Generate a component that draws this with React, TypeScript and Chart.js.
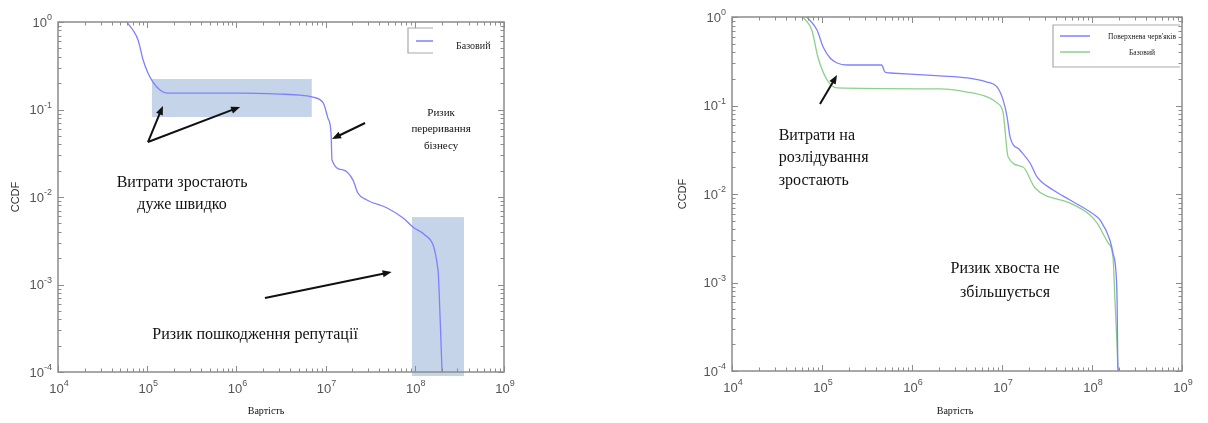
import { useEffect, useRef } from "react";
import { Chart, registerables } from "chart.js";
import type { Plugin } from "chart.js";

Chart.register(...registerables);

// Axis ranges (log10 decades)
const COST_DECADES = [4, 5, 6, 7, 8, 9];
const CCDF_DECADES = [-4, -3, -2, -1, 0];

// Left panel: baseline loss CCDF
const baseLeftCost = [
  5.9e4, 6.9e4, 7.9e4, 9.0e4, 1.02e5, 1.16e5, 1.39e5, 1.67e5, 1.1e6, 3.1e6, 5.2e6, 7.0e6,
  9.4e6, 1.06e7, 1.15e7, 1.18e7, 1.57e7, 2.03e7, 2.3e7, 2.9e7, 4.9e7, 7.4e7, 9.5e7, 1.3e8,
  1.82e8, 1.92e8, 2.02e8,
];
const baseLeftCcdf = [
  1, 0.81, 0.623, 0.368, 0.261, 0.206, 0.167, 0.154, 0.154, 0.15, 0.146, 0.139,
  0.119, 0.08, 0.054, 0.0265, 0.0204, 0.0156, 0.0111, 0.00925, 0.00749, 0.00575, 0.00454, 0.00368,
  0.00147, 0.000425, 0.0001,
];

// Right panel: worm propagation scenario
const wormCost = [
  6.8e4, 8.8e4, 1.03e5, 1.23e5, 1.47e5, 1.9e5, 4.6e5, 5.0e5, 5.7e5, 2.05e6, 4.1e6, 6.8e6,
  8.8e6, 1.03e7, 1.14e7, 1.23e7, 1.58e7, 2.05e7, 2.45e7, 3.7e7, 5.7e7, 1.14e8, 1.23e8, 1.58e8,
  1.71e8, 1.85e8, 1.9e8, 1.94e8, 2.0e8,
];
const wormCcdf = [
  1, 0.713, 0.458, 0.344, 0.302, 0.287, 0.287, 0.239, 0.233, 0.216, 0.205, 0.184,
  0.162, 0.115, 0.074, 0.044, 0.0314, 0.0224, 0.0156, 0.0111, 0.00855, 0.0055, 0.00508, 0.00302,
  0.00215, 0.00128, 0.000634, 0.000111, 0.0001,
];

// Right panel: baseline
const baseRightCost = [
  6.1e4, 7.7e4, 9.0e4, 1.14e5, 1.47e5, 2.05e6, 4.1e6, 6.8e6, 8.8e6, 1.03e7, 1.17e7, 1.71e7,
  2.33e7, 5.7e7, 9.5e7, 1.14e8, 1.51e8, 1.71e8, 1.8e8, 1.9e8, 1.94e8,
];
const baseRightCcdf = [
  1, 0.713, 0.353, 0.194, 0.158, 0.154, 0.142, 0.125, 0.107, 0.082, 0.0262, 0.0202,
  0.0117, 0.0079, 0.0058, 0.0047, 0.0028, 0.00194, 0.00063, 0.000187, 0.0001,
];

const BLUE = "rgb(128,128,255)";
const GREEN = "rgb(140,208,140)";
const SHADE = "rgb(198,212,233)";
const FRAME = "rgb(140,140,140)";
const SERIF = '"Liberation Serif", "Times New Roman", serif';
const SANS = '"Liberation Sans", Arial, sans-serif';

type XY = [number, number];
interface Region { from: XY; to: XY }
interface Note { text: string; at: XY; size: number; align: CanvasTextAlign }
interface LegendItem { label: string; color: string }
interface PanelSpec {
  id: string;
  regions: Region[];
  arrows: Region[];
  notes: Note[];
  legend: { box: [number, number, number, number]; full: boolean; items: LegendItem[]; lineX: [number, number]; rowY: number[]; textX: number; textAlign: CanvasTextAlign; size: number };
  yTitleX: number;
  xTitleX: number;
}

// Annotation placement, in (cost, ccdf) coordinates
const leftRegions: Region[] = [
  { from: [1.13e5, 0.082], to: [7.0e6, 0.223] },
  { from: [9.3e7, 9e-5], to: [3.56e8, 0.0059] },
];
const leftArrows: Region[] = [
  { from: [1.02e5, 0.0425], to: [1.5e5, 0.11] },
  { from: [1.02e5, 0.0425], to: [1.1e6, 0.107] },
  { from: [2.77e7, 0.0701], to: [1.18e7, 0.046] },
  { from: [2.09e6, 0.0007], to: [5.5e7, 0.00139] },
];
const leftNotes: Note[] = [
  { text: "Витрати зростають", at: [2.46e5, 0.0145], size: 16, align: "center" },
  { text: "дуже швидко", at: [2.46e5, 0.0081], size: 16, align: "center" },
  { text: "Ризик", at: [1.97e8, 0.0912], size: 11, align: "center" },
  { text: "переривання", at: [1.97e8, 0.0599], size: 11, align: "center" },
  { text: "бізнесу", at: [1.97e8, 0.0383], size: 11, align: "center" },
  { text: "Ризик пошкодження репутації", at: [1.62e6, 0.000265], size: 16, align: "center" },
];
const rightArrows: Region[] = [{ from: [9.5e4, 0.104], to: [1.47e5, 0.221] }];
const rightNotes: Note[] = [
  { text: "Витрати на", at: [3.3e4, 0.0452], size: 16, align: "left" },
  { text: "розлідування", at: [3.3e4, 0.0255], size: 16, align: "left" },
  { text: "зростають", at: [3.3e4, 0.014], size: 16, align: "left" },
  { text: "Ризик хвоста не", at: [1.08e7, 0.00142], size: 16, align: "center" },
  { text: "збільшується", at: [1.08e7, 0.00076], size: 16, align: "center" },
];

function drawArrow(ctx: CanvasRenderingContext2D, x0: number, y0: number, x1: number, y1: number) {
  const a = Math.atan2(y1 - y0, x1 - x0);
  const c = Math.cos(a), s = Math.sin(a);
  const head = 9, hw = 3.6;
  ctx.beginPath();
  ctx.moveTo(x0, y0);
  ctx.lineTo(x1 - head * 0.7 * c, y1 - head * 0.7 * s);
  ctx.stroke();
  ctx.beginPath();
  ctx.moveTo(x1, y1);
  ctx.lineTo(x1 - head * c + hw * s, y1 - head * s - hw * c);
  ctx.lineTo(x1 - head * c - hw * s, y1 - head * s + hw * c);
  ctx.closePath();
  ctx.fill();
}

function makeDecor(spec: PanelSpec): Plugin<"line"> {
  return {
    id: spec.id,
    beforeDatasetsDraw(chart) {
      const { ctx } = chart;
      const xs = chart.scales.x, ys = chart.scales.y;
      ctx.save();
      ctx.fillStyle = SHADE;
      for (const r of spec.regions) {
        const x0 = xs.getPixelForValue(r.from[0]);
        const x1 = xs.getPixelForValue(r.to[0]);
        const y0 = ys.getPixelForValue(r.from[1]);
        const y1 = ys.getPixelForValue(r.to[1]);
        ctx.fillRect(Math.min(x0, x1), Math.min(y0, y1), Math.abs(x1 - x0), Math.abs(y1 - y0));
      }
      ctx.restore();
    },
    afterDraw(chart) {
      const { ctx, chartArea: ca } = chart;
      const xs = chart.scales.x, ys = chart.scales.y;
      ctx.save();

      // frame with inward ticks on all four sides
      ctx.strokeStyle = FRAME;
      ctx.lineWidth = 1.5;
      ctx.strokeRect(ca.left, ca.top, ca.right - ca.left, ca.bottom - ca.top);
      ctx.lineWidth = 1;
      ctx.beginPath();
      for (let d = COST_DECADES[0]; d <= COST_DECADES[COST_DECADES.length - 1]; d++) {
        for (let m = 1; m <= 9; m++) {
          const v = m * Math.pow(10, d);
          if (v > Math.pow(10, COST_DECADES[COST_DECADES.length - 1])) break;
          const px = Math.round(xs.getPixelForValue(v)) + 0.5;
          const len = m === 1 ? 6 : 3.5;
          ctx.moveTo(px, ca.bottom); ctx.lineTo(px, ca.bottom - len);
          ctx.moveTo(px, ca.top); ctx.lineTo(px, ca.top + len);
        }
      }
      for (let d = CCDF_DECADES[0]; d <= CCDF_DECADES[CCDF_DECADES.length - 1]; d++) {
        for (let m = 1; m <= 9; m++) {
          const v = m * Math.pow(10, d);
          if (v > 1) break;
          const py = Math.round(ys.getPixelForValue(v)) + 0.5;
          const len = m === 1 ? 6 : 3.5;
          ctx.moveTo(ca.left, py); ctx.lineTo(ca.left + len, py);
          ctx.moveTo(ca.right, py); ctx.lineTo(ca.right - len, py);
        }
      }
      ctx.stroke();

      // power-of-ten tick labels
      ctx.fillStyle = "#555";
      ctx.textBaseline = "middle";
      const baseFont = `13px ${SANS}`;
      const expFont = `9px ${SANS}`;
      for (const d of CCDF_DECADES) {
        const py = ys.getPixelForValue(Math.pow(10, d));
        ctx.font = expFont;
        const e = String(d);
        const we = ctx.measureText(e).width;
        ctx.font = baseFont;
        const wb = ctx.measureText("10").width;
        const right = ca.left - 6;
        ctx.textAlign = "left";
        ctx.fillText("10", right - we - wb, py + 1);
        ctx.font = expFont;
        ctx.fillText(e, right - we, py - 4);
      }
      for (const d of COST_DECADES) {
        const px = xs.getPixelForValue(Math.pow(10, d));
        ctx.font = expFont;
        const e = String(d);
        const we = ctx.measureText(e).width;
        ctx.font = baseFont;
        const wb = ctx.measureText("10").width;
        const start = px + 1 - (wb + we) / 2;
        ctx.textAlign = "left";
        ctx.fillText("10", start, ca.bottom + 17);
        ctx.font = expFont;
        ctx.fillText(e, start + wb, ca.bottom + 12);
      }

      // axis titles
      ctx.fillStyle = "#333";
      ctx.font = `11px ${SANS}`;
      ctx.textAlign = "center";
      ctx.save();
      ctx.translate(spec.yTitleX, (ca.top + ca.bottom) / 2);
      ctx.rotate(-Math.PI / 2);
      ctx.fillText("CCDF", 0, 0);
      ctx.restore();
      ctx.fillStyle = "#111";
      ctx.font = `10px ${SERIF}`;
      ctx.fillText("Вартість", spec.xTitleX, 411);

      // arrows
      ctx.strokeStyle = "#111";
      ctx.fillStyle = "#111";
      ctx.lineWidth = 2;
      for (const a of spec.arrows) {
        drawArrow(
          ctx,
          xs.getPixelForValue(a.from[0]), ys.getPixelForValue(a.from[1]),
          xs.getPixelForValue(a.to[0]), ys.getPixelForValue(a.to[1]),
        );
      }

      // callout text
      ctx.fillStyle = "#111";
      ctx.textBaseline = "middle";
      for (const n of spec.notes) {
        ctx.font = `${n.size}px ${SERIF}`;
        ctx.textAlign = n.align;
        ctx.fillText(n.text, xs.getPixelForValue(n.at[0]), ys.getPixelForValue(n.at[1]));
      }

      // legend
      const lg = spec.legend;
      const [bx, by, bw, bh] = lg.box;
      ctx.lineWidth = 1.2;
      ctx.strokeStyle = "#aaa";
      ctx.beginPath();
      ctx.moveTo(bx + bw, by); ctx.lineTo(bx, by); ctx.lineTo(bx, by + bh); ctx.lineTo(bx + bw, by + bh);
      if (lg.full) ctx.lineTo(bx + bw, by);
      ctx.stroke();
      ctx.font = `${lg.size}px ${SERIF}`;
      ctx.textAlign = lg.textAlign;
      lg.items.forEach((it, i) => {
        ctx.strokeStyle = it.color;
        ctx.lineWidth = 1.5;
        ctx.beginPath();
        ctx.moveTo(lg.lineX[0], lg.rowY[i]);
        ctx.lineTo(lg.lineX[1], lg.rowY[i]);
        ctx.stroke();
        ctx.fillStyle = "#222";
        ctx.fillText(it.label, lg.textX, lg.rowY[i] + (lg.items.length > 1 ? 1 : 5));
      });

      ctx.restore();
    },
  };
}

function series(cost: number[], ccdf: number[]) {
  return cost.map((c, i) => ({ x: c, y: ccdf[i] }));
}

interface PanelProps {
  left: number;
  padding: { left: number; top: number; right: number; bottom: number };
  datasets: { label: string; color: string; cost: number[]; ccdf: number[] }[];
  spec: PanelSpec;
}

function Panel({ left, padding, datasets, spec }: PanelProps) {
  const ref = useRef<HTMLCanvasElement | null>(null);
  useEffect(() => {
    if (!ref.current) return;
    const chart = new Chart(ref.current, {
      type: "line",
      data: {
        datasets: datasets.map((d) => ({
          label: d.label,
          data: series(d.cost, d.ccdf),
          borderColor: d.color,
          borderWidth: 1.3,
          pointRadius: 0,
          fill: false,
          cubicInterpolationMode: "monotone" as const,
        })),
      },
      options: {
        responsive: false,
        animation: false,
        layout: { padding },
        plugins: { legend: { display: false }, tooltip: { enabled: false } },
        scales: {
          x: { type: "logarithmic", min: 1e4, max: 1e9, display: false },
          y: { type: "logarithmic", min: 1e-4, max: 1, display: false },
        },
      },
      plugins: [makeDecor(spec)],
    });
    return () => chart.destroy();
  }, []);
  return (
    <canvas
      ref={ref}
      width={604}
      height={423}
      style={{ position: "absolute", left, top: 0, width: 604, height: 423 }}
    />
  );
}

const leftSpec: PanelSpec = {
  id: "leftDecor",
  regions: leftRegions,
  arrows: leftArrows,
  notes: leftNotes,
  legend: {
    box: [408, 28, 25, 25],
    full: false,
    items: [{ label: "Базовий", color: BLUE }],
    lineX: [416, 433],
    rowY: [41],
    textX: 456,
    textAlign: "left",
    size: 10,
  },
  yTitleX: 16,
  xTitleX: 266,
};

const rightSpec: PanelSpec = {
  id: "rightDecor",
  regions: [],
  arrows: rightArrows,
  notes: rightNotes,
  legend: {
    box: [449, 25, 127, 42],
    full: false,
    items: [
      { label: "Поверхнева черв'яків", color: BLUE },
      { label: "Базовий", color: GREEN },
    ],
    lineX: [456, 486],
    rowY: [36, 52],
    textX: 538,
    textAlign: "center",
    size: 7.5,
  },
  yTitleX: 79,
  xTitleX: 351,
};

export default function App() {
  return (
    <div style={{ position: "absolute", left: 0, top: 0, width: 1208, height: 423, background: "#fff" }}>
      <Panel
        left={0}
        padding={{ left: 58, top: 22, right: 100, bottom: 51 }}
        datasets={[{ label: "Базовий", color: BLUE, cost: baseLeftCost, ccdf: baseLeftCcdf }]}
        spec={leftSpec}
      />
      <Panel
        left={604}
        padding={{ left: 128, top: 17, right: 26, bottom: 52 }}
        datasets={[
          { label: "Поверхнева черв'яків", color: BLUE, cost: wormCost, ccdf: wormCcdf },
          { label: "Базовий", color: GREEN, cost: baseRightCost, ccdf: baseRightCcdf },
        ]}
        spec={rightSpec}
      />
    </div>
  );
}
